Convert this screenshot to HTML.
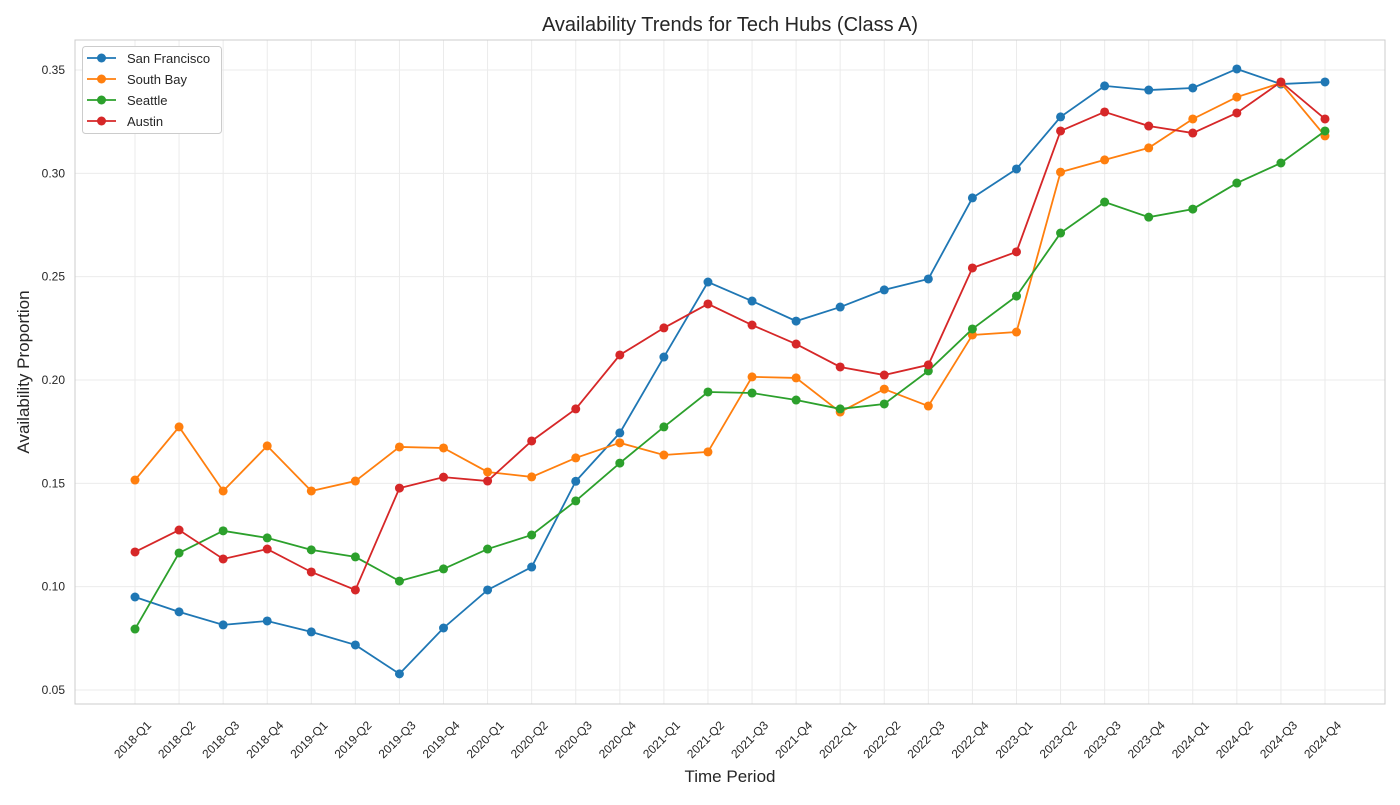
<!DOCTYPE html>
<html><head><meta charset="utf-8"><style>
body{margin:0;background:#fff;font-family:"Liberation Sans",sans-serif;}
svg text{font-family:"Liberation Sans",sans-serif;fill:#262626;}
</style></head><body>
<svg id="chart" width="1400" height="800" xmlns="http://www.w3.org/2000/svg"></svg>
<script>
const categories=["2018-Q1","2018-Q2","2018-Q3","2018-Q4","2019-Q1","2019-Q2","2019-Q3","2019-Q4","2020-Q1","2020-Q2","2020-Q3","2020-Q4","2021-Q1","2021-Q2","2021-Q3","2021-Q4","2022-Q1","2022-Q2","2022-Q3","2022-Q4","2023-Q1","2023-Q2","2023-Q3","2023-Q4","2024-Q1","2024-Q2","2024-Q3","2024-Q4"];
const sanFrancisco=[0.095,0.0878,0.0815,0.0834,0.0781,0.0718,0.0578,0.080,0.0984,0.1095,0.151,0.1744,0.2111,0.2474,0.2382,0.2285,0.2353,0.2436,0.2489,0.2881,0.3021,0.3273,0.3423,0.3403,0.3413,0.3505,0.3432,0.3442];
const southBay=[0.1516,0.1773,0.1463,0.1681,0.1463,0.1511,0.1676,0.1671,0.1555,0.1531,0.1623,0.1696,0.1637,0.1652,0.2015,0.201,0.1845,0.1956,0.1874,0.2218,0.2232,0.3006,0.3065,0.3123,0.3263,0.3369,0.3437,0.3181];
const seattle=[0.0795,0.1163,0.127,0.1236,0.1178,0.1144,0.1027,0.1086,0.1182,0.125,0.1415,0.1598,0.1773,0.1942,0.1937,0.1903,0.186,0.1884,0.2044,0.2247,0.2406,0.2711,0.2861,0.2788,0.2827,0.2953,0.305,0.3205];
const austin=[0.1168,0.1274,0.1134,0.1182,0.1071,0.0984,0.1477,0.153,0.1511,0.1705,0.186,0.2121,0.2252,0.2368,0.2266,0.2174,0.2063,0.2024,0.2073,0.2542,0.262,0.3205,0.3297,0.3229,0.3195,0.3292,0.3442,0.3263];
const seriesNames=["San Francisco","South Bay","Seattle","Austin"];
const yTicks=[0.05,0.10,0.15,0.20,0.25,0.30,0.35];

const colors=["#1f77b4","#ff7f0e","#2ca02c","#d62728"];
const allSeries=[sanFrancisco,southBay,seattle,austin];
const svg=document.getElementById('chart');
const NS="http://www.w3.org/2000/svg";
const L=75,R=1385,T=40,B=704;
const x=i=>135+i*(1325-135)/(categories.length-1);
const y=v=>70+(0.35-v)*(620/0.30);
function mk(tag,attrs,parent){const e=document.createElementNS(NS,tag);for(const k in attrs)e.setAttribute(k,attrs[k]);(parent||svg).appendChild(e);return e;}

const grid=mk('g',{});


yTicks.forEach(v=>{
  mk('line',{x1:L,x2:R,y1:y(v),y2:y(v),stroke:'#ebebeb','stroke-width':1},grid);
  const t=mk('text',{x:L-10,y:y(v)+4,'text-anchor':'end','font-size':12});
  t.textContent=v.toFixed(2);
  
  
});
categories.forEach((c,i)=>{
  mk('line',{x1:x(i),x2:x(i),y1:T,y2:B,stroke:'#ebebeb','stroke-width':1},grid);
  const ax=x(i)+17, ay=B+22;
  const t=mk('text',{x:ax,y:ay,'text-anchor':'end','font-size':12,transform:`rotate(-45 ${ax} ${ay})`});
  t.textContent=c;
  
  
});
const frame=mk('rect',{x:L,y:T,width:R-L,height:B-T,fill:'none',stroke:'#cccccc','stroke-width':1});



allSeries.forEach((s,k)=>{
  const g=mk('g',{});
  
  
  mk('polyline',{points:s.map((v,i)=>x(i)+','+y(v)).join(' '),fill:'none',stroke:colors[k],'stroke-width':1.8},g);
  s.forEach((v,i)=>{
    const c=mk('circle',{cx:x(i),cy:y(v),r:4.5,fill:colors[k]},g);
    
    
  });
});

const title=mk('text',{x:730,y:31,'text-anchor':'middle','font-size':20});
title.textContent='Availability Trends for Tech Hubs (Class A)';


const xt=mk('text',{x:730,y:782,'text-anchor':'middle','font-size':17});
xt.textContent='Time Period';


const yt=mk('text',{x:29,y:372,'text-anchor':'middle','font-size':17,transform:'rotate(-90 29 372)'});
yt.textContent='Availability Proportion';



const lg=mk('g',{});


mk('rect',{x:82.5,y:46.5,width:139,height:87,rx:3,fill:'#fff',stroke:'#cccccc'},lg);
seriesNames.forEach((n,k)=>{
  const yy=58+k*21;
  const e=mk('g',{},lg);
  
  
  mk('line',{x1:87,x2:116,y1:yy,y2:yy,stroke:colors[k],'stroke-width':1.8},e);
  mk('circle',{cx:101.5,cy:yy,r:4.5,fill:colors[k]},e);
  const t=mk('text',{x:127,y:yy+5,'font-size':13},e);
  t.textContent=n;
});
</script>
</body></html>
